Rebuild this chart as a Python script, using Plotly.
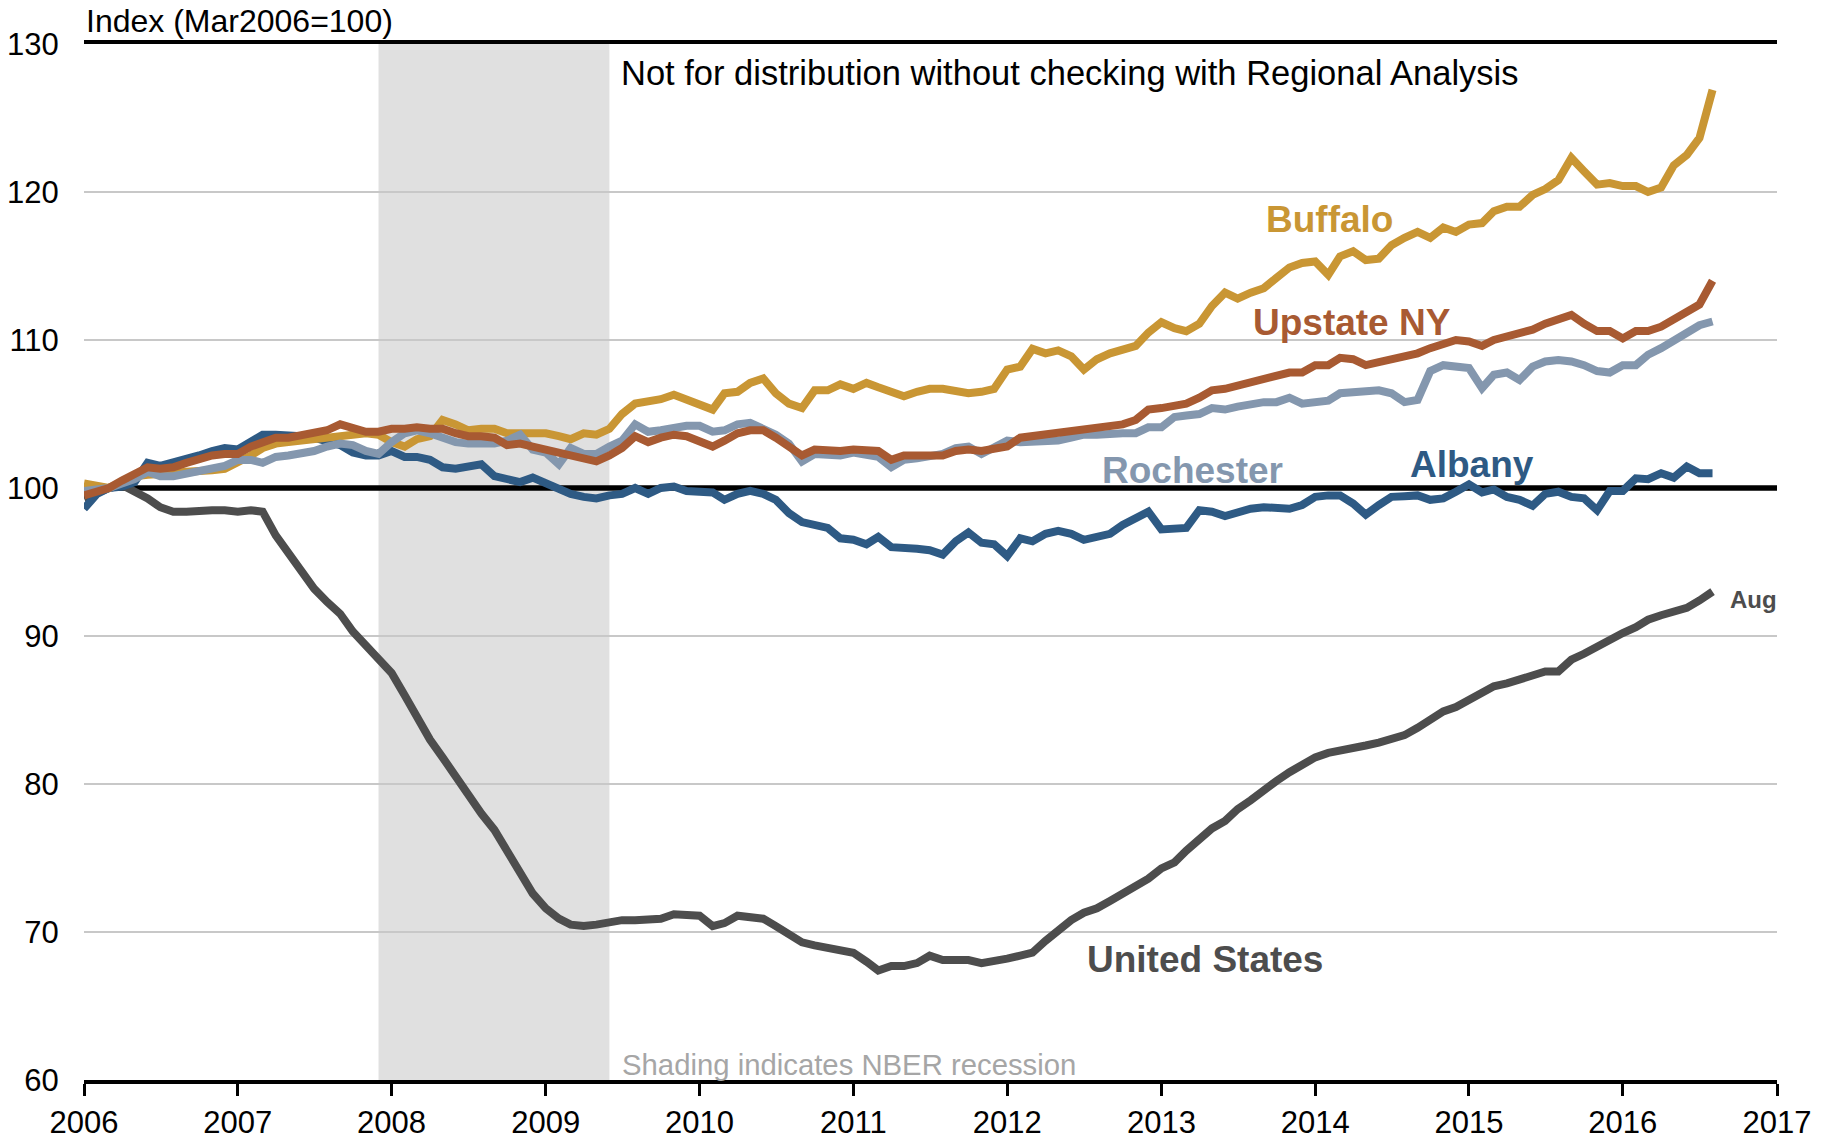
import pandas as pd
import plotly.graph_objects as go

# Monthly house price index, Jan 2006 - Aug 2016 (Mar 2006 = 100)
months = pd.date_range("2006-01-01", "2016-08-01", freq="MS")

united_states = [
    99.3, 99.7, 100.0, 100.2, 99.8, 99.3, 98.7, 98.4, 98.4, 98.5, 98.5, 98.5,
    98.4, 98.5, 98.4, 96.8, 95.6, 94.3, 93.2, 92.3, 91.5, 90.3, 89.3, 88.4,
    87.5, 86.0, 84.5, 83.0, 81.8, 80.5, 79.4, 78.0, 76.9, 75.4, 74.0, 72.6,
    71.6, 70.9, 70.5, 70.4, 70.5, 70.7, 70.8, 70.8, 70.8, 70.9, 71.2, 71.2,
    71.1, 70.4, 70.6, 71.1, 71.0, 70.9, 70.4, 69.8, 69.3, 69.1, 68.9, 68.8,
    68.6, 68.0, 67.4, 67.7, 67.7, 67.9, 68.4, 68.1, 68.1, 68.1, 67.9, 68.0,
    68.2, 68.4, 68.6, 69.4, 70.1, 70.8, 71.3, 71.6, 72.1, 72.6, 73.0, 73.6,
    74.3, 74.7, 75.5, 76.3, 77.0, 77.5, 78.3, 78.9, 79.6, 80.2, 80.8, 81.3,
    81.8, 82.1, 82.3, 82.4, 82.6, 82.8, 83.1, 83.3, 83.8, 84.4, 84.9, 85.2,
    85.7, 86.2, 86.6, 86.8, 87.1, 87.3, 87.6, 87.6, 88.4, 88.8, 89.3, 89.8,
    90.2, 90.6, 91.1, 91.4, 91.6, 91.9, 92.4, 93.0,
]

albany = [
    98.6, 99.6, 100.0, 100.1, 100.4, 101.7, 101.5, 101.7, 101.9, 102.2, 102.5, 102.7,
    102.6, 103.1, 103.6, 103.6, 103.6, 103.5, 103.4, 103.2, 102.9, 102.4, 102.2, 102.2,
    102.5, 102.1, 102.1, 101.9, 101.4, 101.3, 101.4, 101.6, 100.8, 100.6, 100.4, 100.7,
    100.3, 100.0, 99.6, 99.4, 99.3, 99.5, 99.6, 100.0, 99.6, 100.0, 100.1, 99.8,
    99.75, 99.7, 99.2, 99.6, 99.8, 99.6, 99.2, 98.3, 97.7, 97.5, 97.3, 96.6,
    96.5, 96.2, 96.7, 96.0, 96.0, 95.9, 95.8, 95.5, 96.4, 97.0, 96.3, 96.2,
    95.4, 96.6, 96.4, 96.9, 97.1, 96.9, 96.5, 96.7, 96.9, 97.5, 97.9, 98.4,
    97.2, 97.2, 97.3, 98.5, 98.4, 98.1, 98.4, 98.6, 98.7, 98.7, 98.6, 98.85,
    99.4, 99.5, 99.5, 98.95, 98.2, 98.85, 99.4, 99.45, 99.5, 99.2, 99.3, 99.75,
    100.25, 99.7, 99.9, 99.4, 99.2, 98.8, 99.6, 99.75, 99.4, 99.3, 98.5, 99.8,
    99.8, 100.65, 100.6, 101.0, 100.7, 101.45, 101.0, 101.0,
]

buffalo = [
    100.3, 100.2, 100.0, 100.4, 100.8, 100.9, 100.9, 101.0, 101.1, 101.1, 101.2, 101.3,
    101.7, 102.2, 102.7, 103.0, 103.1, 103.2, 103.3, 103.5, 103.6, 103.7, 103.7, 103.6,
    103.1, 102.8, 103.3, 103.5, 104.6, 104.3, 103.9, 104.0, 104.0, 103.7, 103.7, 103.6,
    103.7, 103.5, 103.3, 103.7, 103.6, 104.0, 105.0, 105.7, 105.8, 106.0, 106.3, 106.0,
    105.7, 105.3, 106.4, 106.5, 107.1, 107.4, 106.4, 105.7, 105.4, 106.6, 106.6, 107.0,
    106.7, 107.1, 106.8, 106.5, 106.2, 106.5, 106.7, 106.7, 106.5, 106.4, 106.5, 106.7,
    108.0, 108.2, 109.4, 109.1, 109.3, 108.9, 108.0, 108.7, 109.1, 109.3, 109.6, 110.5,
    111.2, 110.8, 110.6, 111.1, 112.3, 113.2, 112.8, 113.2, 113.5, 114.2, 114.9, 115.2,
    115.3, 114.4, 115.65, 116.0, 115.4, 115.5, 116.4, 116.9, 117.3, 116.9, 117.6, 117.3,
    117.8, 117.9, 118.7, 119.0, 119.0, 119.8, 120.2, 120.8, 122.3, 121.4, 120.5, 120.6,
    120.4, 120.4, 120.0, 120.3, 121.8, 122.5, 123.65, 126.9,
]

rochester = [
    99.8, 99.9, 100.0, 100.3, 100.6, 101.1, 100.8, 100.8, 101.0, 101.2, 101.3, 101.5,
    101.9, 101.9, 101.7, 102.1, 102.2, 102.3, 102.5, 102.8, 103.0, 102.9, 102.5, 102.3,
    103.1, 103.7, 103.9, 103.7, 103.4, 103.1, 103.0, 103.0, 103.0, 103.2, 103.6, 102.6,
    102.4, 101.6, 102.7, 102.3, 102.3, 102.8, 103.2, 104.3, 103.8, 103.9, 104.1, 104.2,
    104.2, 103.8, 103.9, 104.3, 104.4, 104.0, 103.6, 103.0, 101.8, 102.3, 102.2, 102.2,
    102.4, 102.3, 102.1, 101.4, 101.9, 102.0, 102.1, 102.3, 102.7, 102.8, 102.3, 102.8,
    103.2, 103.1, 103.1, 103.1, 103.2, 103.4, 103.6, 103.6, 103.7, 103.7, 103.7, 104.1,
    104.1, 104.8, 104.9, 105.0, 105.4, 105.3, 105.5, 105.7, 105.8, 105.8, 106.1, 105.7,
    105.8, 105.9, 106.4, 106.5, 106.6, 106.6, 106.4, 105.8, 105.95, 107.9, 108.3, 108.2,
    108.1, 106.75, 107.65, 107.8, 107.3, 108.2, 108.55, 108.65, 108.55, 108.3, 107.9, 107.8,
    108.3, 108.3, 109.0, 109.45, 110.0, 110.6, 111.0, 111.25,
]

upstate_ny = [
    99.5, 99.8, 100.0, 100.5, 100.9, 101.4, 101.3, 101.4, 101.7, 102.0, 102.2, 102.3,
    102.3, 102.8, 103.1, 103.4, 103.4, 103.6, 103.8, 103.9, 104.3, 104.0, 103.8, 103.8,
    104.0, 104.0, 104.1, 104.0, 104.0, 103.7, 103.5, 103.5, 103.4, 102.9, 103.0, 102.8,
    102.6, 102.3, 102.1, 101.9, 101.8, 102.2, 102.7, 103.5, 103.1, 103.4, 103.6, 103.5,
    103.2, 102.8, 103.2, 103.7, 103.9, 103.9, 103.4, 102.8, 102.2, 102.6, 102.5, 102.5,
    102.6, 102.6, 102.5, 101.9, 102.2, 102.2, 102.2, 102.2, 102.5, 102.6, 102.5, 102.6,
    102.8, 103.4, 103.5, 103.7, 103.7, 103.9, 103.9, 104.1, 104.2, 104.3, 104.6, 105.3,
    105.4, 105.6, 105.7, 106.1, 106.6, 106.7, 106.9, 107.1, 107.3, 107.5, 107.8, 107.8,
    108.3, 108.3, 108.8, 108.7, 108.3, 108.5, 108.7, 108.8, 109.1, 109.45, 109.8, 110.0,
    109.9, 109.6, 110.0, 110.2, 110.4, 110.7, 111.1, 111.4, 111.7, 111.1, 110.6, 110.6,
    110.1, 110.6, 110.6, 110.9, 111.4, 111.8, 112.4, 114.0,
]

years = list(range(2006, 2018))
y_ticks = list(range(60, 131, 10))
base_level = 100
x_span = ["2006-01-01", "2017-01-01"]
recession = ("2007-12-01", "2009-06-01")

FONT = "Liberation Sans, Arial, Helvetica, sans-serif"

# drawing order: later series sit on top
series = [
    ("United States", united_states, "#4D4D4D"),
    ("Albany", albany, "#2E5A84"),
    ("Buffalo", buffalo, "#C99634"),
    ("Rochester", rochester, "#8497AE"),
    ("Upstate NY", upstate_ny, "#A85A32"),
]

fig = go.Figure()

# base-period reference line (Mar 2006 = 100), drawn beneath the series
fig.add_trace(go.Scatter(
    x=x_span, y=[base_level, base_level], mode="lines",
    line=dict(color="black", width=5.5), hoverinfo="skip",
))

for name, values, color in series:
    fig.add_trace(go.Scatter(
        x=months, y=values, name=name, mode="lines",
        line=dict(color=color, width=8),
        hoverinfo="x+y+name",
    ))

# NBER recession shading
fig.add_shape(type="rect", xref="x", yref="paper",
              x0=recession[0], x1=recession[1], y0=0, y1=1,
              fillcolor="#E0E0E0", line=dict(width=0), layer="below")

labels = [
    ("<b>Buffalo</b>", 0.7359, 0.8305, "#C99634", 37, "center"),
    ("<b>Upstate NY</b>", 0.7489, 0.7311, "#A85A32", 37, "center"),
    ("<b>Rochester</b>", 0.6548, 0.5880, "#8497AE", 37, "center"),
    ("<b>Albany</b>", 0.8197, 0.5940, "#2E5A84", 37, "center"),
    ("<b>United States</b>", 0.6621, 0.1160, "#4D4D4D", 37, "center"),
    ("<b>Aug</b>", 0.9709, 0.4634, "#4D4D4D", 24, "left"),
    ("Not for distribution without checking with Regional Analysis", 0.3159, 0.9719, "black", 34.5, "left"),
    ("Shading indicates NBER recession", 0.3165, 0.0145, "#A6A6A6", 29.3, "left"),
]
for text, x, y, color, size, anchor in labels:
    fig.add_annotation(text=text, xref="paper", yref="paper", x=x, y=y,
                       xanchor=anchor, yanchor="middle", showarrow=False,
                       font=dict(family=FONT, size=size, color=color))

fig.add_annotation(text="Index (Mar2006=100)", xref="paper", yref="paper",
                   x=0, y=1, xanchor="left", yanchor="middle", yshift=23,
                   showarrow=False, font=dict(family=FONT, size=32, color="black"))

fig.update_layout(
    width=1831, height=1140,
    margin=dict(l=84, r=54, t=44, b=60),
    plot_bgcolor="white", paper_bgcolor="white",
    showlegend=False,
    font=dict(family=FONT, size=31, color="black"),
    xaxis=dict(
        type="date", range=x_span, automargin=False,
        tickvals=[f"{y}-01-01" for y in years], ticktext=[str(y) for y in years],
        ticks="outside", ticklen=12, tickwidth=2.5, tickcolor="black",
        ticklabelstandoff=0,
        showline=True, linecolor="black", linewidth=3.5, mirror=True,
        showgrid=False, zeroline=False,
    ),
    yaxis=dict(
        range=[60, 130], automargin=False,
        tickvals=y_ticks, ticktext=[str(v) for v in y_ticks],
        showgrid=True, gridcolor="#C8C8C8", gridwidth=1.5,
        zeroline=False, showline=False,
        ticks="outside", ticklen=18, tickcolor="rgba(0,0,0,0)",
    ),
)

fig.write_html("out.html")
